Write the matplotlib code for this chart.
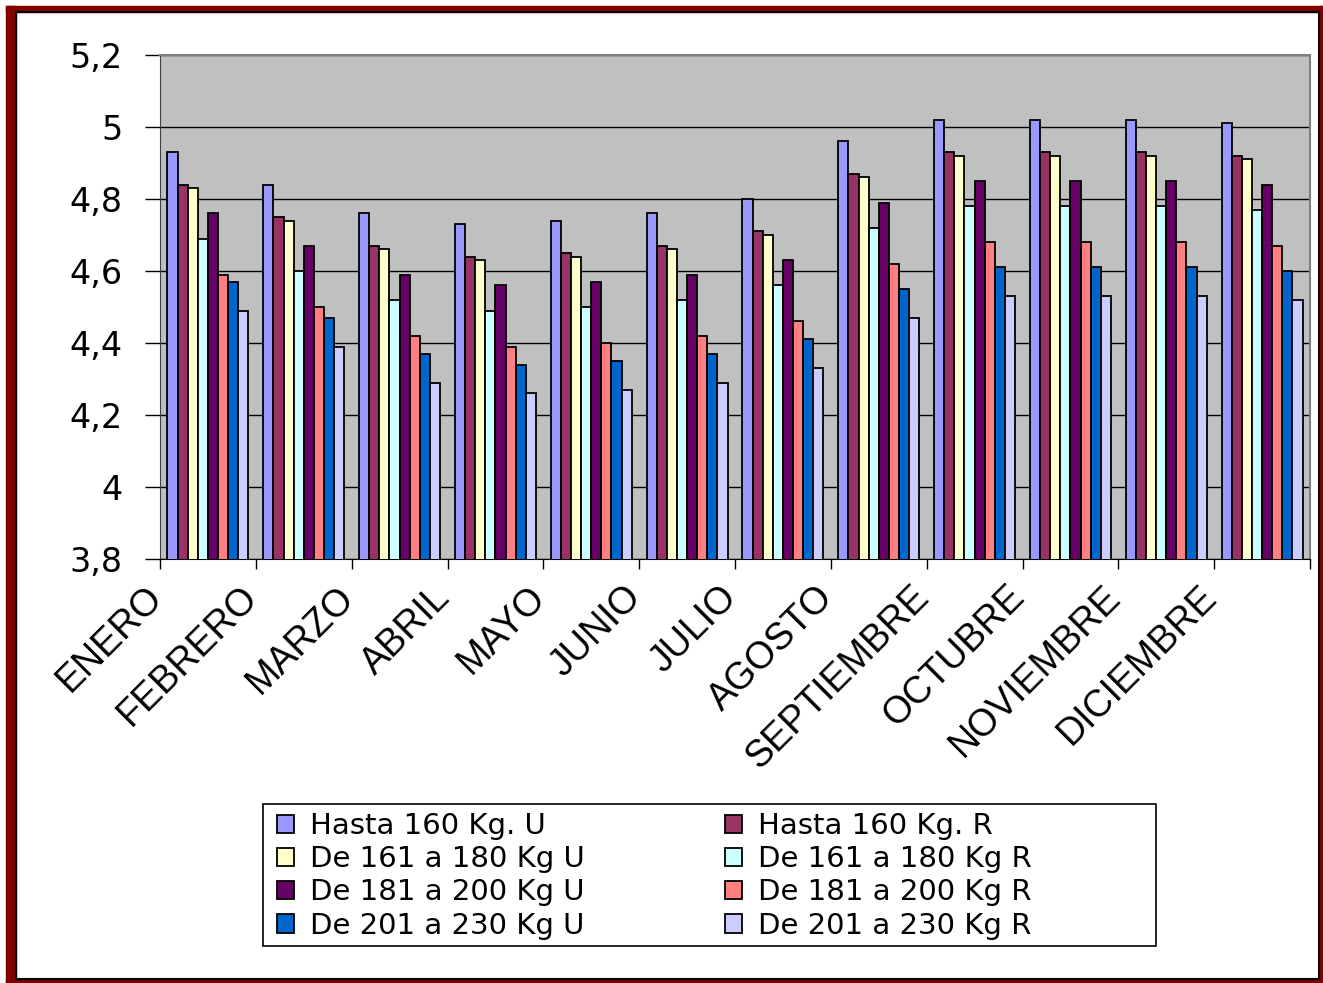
import numpy as np
import matplotlib
matplotlib.use("Agg")
import matplotlib.pyplot as plt
import matplotlib.transforms as mtransforms
from matplotlib.ticker import FuncFormatter, FixedLocator
from matplotlib.patches import Rectangle

plt.rcParams['font.family'] = ['DejaVu Sans']

# data
meses = ["ENERO", "FEBRERO", "MARZO", "ABRIL", "MAYO", "JUNIO", "JULIO",
         "AGOSTO", "SEPTIEMBRE", "OCTUBRE", "NOVIEMBRE", "DICIEMBRE"]

series = ["Hasta 160 Kg. U", "Hasta 160 Kg. R",
          "De 161 a 180 Kg U", "De 161 a 180 Kg R",
          "De 181 a 200 Kg U", "De 181 a 200 Kg R",
          "De 201 a 230 Kg U", "De 201 a 230 Kg R"]

hasta160_u = [4.93, 4.84, 4.76, 4.73, 4.74, 4.76, 4.80, 4.96, 5.02, 5.02, 5.02, 5.01]
hasta160_r = [4.84, 4.75, 4.67, 4.64, 4.65, 4.67, 4.71, 4.87, 4.93, 4.93, 4.93, 4.92]
de161_u = [4.83, 4.74, 4.66, 4.63, 4.64, 4.66, 4.70, 4.86, 4.92, 4.92, 4.92, 4.91]
de161_r = [4.69, 4.60, 4.52, 4.49, 4.50, 4.52, 4.56, 4.72, 4.78, 4.78, 4.78, 4.77]
de181_u = [4.76, 4.67, 4.59, 4.56, 4.57, 4.59, 4.63, 4.79, 4.85, 4.85, 4.85, 4.84]
de181_r = [4.59, 4.50, 4.42, 4.39, 4.40, 4.42, 4.46, 4.62, 4.68, 4.68, 4.68, 4.67]
de201_u = [4.57, 4.47, 4.37, 4.34, 4.35, 4.37, 4.41, 4.55, 4.61, 4.61, 4.61, 4.60]
de201_r = [4.49, 4.39, 4.29, 4.26, 4.27, 4.29, 4.33, 4.47, 4.53, 4.53, 4.53, 4.52]

valores = [hasta160_u, hasta160_r, de161_u, de161_r,
           de181_u, de181_r, de201_u, de201_r]
colores = ["#9999FF", "#993366", "#FFFFCC", "#CCFFFF",
           "#660066", "#FF8080", "#0066CC", "#CCCCFF"]

W, H = 1323, 983
fig = plt.figure(figsize=(W / 100, H / 100), dpi=100)
ax = fig.add_axes([160 / W, 1 - 559 / H, 1150 / W, 504 / H])

n = len(series)
cluster = 0.845
bw = cluster / n
x = np.arange(len(meses))
bars = []
for i in range(n):
    pos = x + (1 - cluster) / 2 + bw * (i + 0.5)
    b = ax.bar(pos, valores[i], width=bw, bottom=0, color=colores[i],
               edgecolor="black", linewidth=1.3, label=series[i], zorder=3)
    bars.append(b)

ax.set_xlim(0, len(meses))
ax.set_ylim(3.8, 5.2)
ax.set_facecolor("#C0C0C0")
ax.yaxis.set_major_locator(FixedLocator(np.arange(3.8, 5.21, 0.2)))
ax.yaxis.set_major_formatter(FuncFormatter(lambda v, p: f"{round(v, 1):g}".replace(".", ",")))
ax.grid(axis="y", color="black", linewidth=1, zorder=1)
ax.tick_params(axis="y", labelsize=24, length=11, width=1, pad=16, direction="out")

ax.set_xticks(np.arange(len(meses) + 1))
ax.set_xticklabels([])
ax.tick_params(axis="x", length=7, width=1, direction="out")
off = mtransforms.ScaledTranslation(-0.16, -0.20, fig.dpi_scale_trans)
for i, m in enumerate(meses):
    ax.text(i, 3.8, m, rotation=45, rotation_mode="anchor", ha="right", va="top",
            fontsize=27, family=["Liberation Sans", "DejaVu Sans"],
            transform=ax.transData + off)

for s in ["top", "right"]:
    ax.spines[s].set_color("#808080")
    ax.spines[s].set_linewidth(1.5)
ax.spines["left"].set_color("#404040")
ax.spines["bottom"].set_color("black")

# legend: U series in the first column, R series in the second
orden = [0, 2, 4, 6, 1, 3, 5, 7]
fs = 21
fs_px = fs * 100 / 72
hl = 17 / fs_px
tp = 16 / fs_px
renderer = fig.canvas.get_renderer()
t = fig.text(0, 0, "De 201 a 230 Kg U", fontsize=fs)
ancho = t.get_window_extent(renderer).width
t.remove()
cs = (725 - 277 - 17 - 16 - ancho) / fs_px
leg = fig.legend([bars[i] for i in orden], [series[i] for i in orden],
                 ncol=2, loc="upper left", bbox_to_anchor=(277 / W, 1 - 812 / H),
                 fontsize=fs, frameon=False,
                 handlelength=hl, handleheight=hl, handletextpad=tp,
                 labelspacing=0.18, columnspacing=cs, borderpad=0, borderaxespad=0)
fig.patches.append(Rectangle((263 / W, 1 - 946 / H), (1156 - 263) / W, (946 - 804) / H,
                             transform=fig.transFigure, fill=False, edgecolor="black",
                             linewidth=1.2))

# dark red frame around the picture
rojo = "#800000"
for r in [(6, 6, 10, H - 6), (6, 6, W - 6, 6), (W - 4, 6, 4, H - 6), (6, H - 4, W - 6, 4)]:
    fig.patches.append(Rectangle((r[0] / W, 1 - (r[1] + r[3]) / H), r[2] / W, r[3] / H,
                                 transform=fig.transFigure, color=rojo, zorder=10))
fig.patches.append(Rectangle((16 / W, 1 - 979 / H), (W - 4 - 16) / W, (979 - 12) / H,
                             transform=fig.transFigure, fill=False, edgecolor="black",
                             linewidth=1.5, zorder=10))

fig.savefig("out.png", dpi=100)
